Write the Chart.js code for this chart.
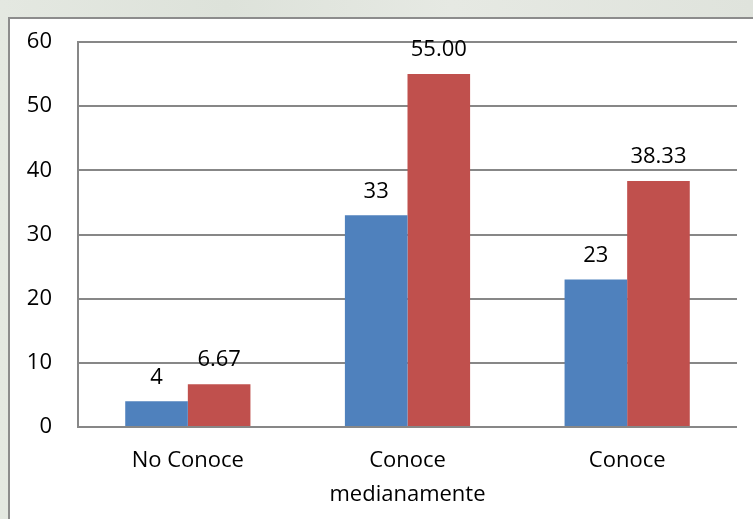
<!DOCTYPE html>
<html>
<head>
<meta charset="utf-8">
<script src="https://cdn.jsdelivr.net/npm/chart.js@4/dist/chart.umd.min.js"></script>
<style>
  html, body { margin: 0; padding: 0; }
  body { width: 753px; height: 519px; overflow: hidden; position: relative;
         background: linear-gradient(90deg, #e4e8e1 0%, #dde2da 30%, #e6e9e3 60%, #dfe3dc 100%); }
  #frame { position: absolute; left: 8px; top: 17px; width: 760px; height: 520px;
           background: #fff; border: 2px solid #8c8c8c; box-sizing: border-box; }
  #wrap { position: absolute; left: 0; top: 0; width: 753px; height: 519px; }
</style>
</head>
<body>
<div id="frame"></div>
<div id="wrap"><canvas id="myChart" width="753" height="519"></canvas></div>
<script>
// categories and series
var categorias = ['No Conoce', ['Conoce', 'medianamente'], 'Conoce'];
var frecuencia = [4, 33, 23];
var porcentaje = [6.67, 55.00, 38.33];
var etiquetasFrecuencia = ['4', '33', '23'];
var etiquetasPorcentaje = ['6.67', '55.00', '38.33'];
var ticksY = [0, 10, 20, 30, 40, 50, 60];

var fuente = "'Open Sans', 'Noto Sans', sans-serif";

// draws the numbers above the bars
var etiquetasPlugin = {
    id: 'etiquetas',
    afterDatasetsDraw: function (chart) {
        var ctx = chart.ctx;
        ctx.save();
        ctx.font = '22px ' + fuente;
        ctx.fillStyle = '#000';
        ctx.textAlign = 'center';
        ctx.textBaseline = 'bottom';
        chart.data.datasets.forEach(function (ds, i) {
            var meta = chart.getDatasetMeta(i);
            meta.data.forEach(function (bar, j) {
                ctx.fillText(ds.etiquetas[j], bar.x, bar.y - 13);
            });
        });
        ctx.restore();
    }
};

var ctx = document.getElementById('myChart').getContext('2d');
var myChart = new Chart(ctx, {
    type: 'bar',
    data: {
        labels: categorias,
        datasets: [{
            label: 'Frecuencia',
            data: frecuencia,
            etiquetas: etiquetasFrecuencia,
            backgroundColor: '#4f81bd',
            borderWidth: 0
        }, {
            label: 'Porcentaje',
            data: porcentaje,
            etiquetas: etiquetasPorcentaje,
            backgroundColor: '#c0504d',
            borderWidth: 0
        }]
    },
    options: {
        responsive: false,
        animation: false,
        events: [],
        layout: { padding: { left: 0, top: 42, right: 16, bottom: 0 } },
        plugins: {
            legend: { display: false },
            tooltip: { enabled: false }
        },
        datasets: {
            bar: { categoryPercentage: 0.57, barPercentage: 1 }
        },
        scales: {
            x: {
                grid: { display: false, drawTicks: false },
                border: { display: false },
                ticks: {
                    color: '#000',
                    padding: 17,
                    font: { family: fuente, size: 22, lineHeight: 1.55 },
                    maxRotation: 0
                },
                afterFit: function (scale) { scale.height = 92; }
            },
            y: {
                min: 0,
                max: 60,
                afterBuildTicks: function (scale) {
                    scale.ticks = ticksY.map(function (v) { return { value: v }; });
                },
                grid: { color: '#878787', lineWidth: 2, drawTicks: false },
                border: { display: true, color: '#878787', width: 2 },
                ticks: {
                    color: '#000',
                    padding: 26,
                    font: { family: fuente, size: 22 }
                },
                afterFit: function (scale) { scale.width = 78; }
            }
        }
    },
    plugins: [etiquetasPlugin]
});
</script>
</body>
</html>
